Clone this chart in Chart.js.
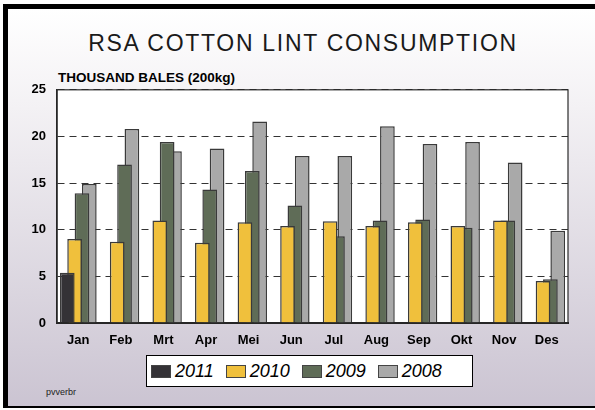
<!DOCTYPE html>
<html lang="en">
<head>
    <meta charset="UTF-8">
    <title>RSA Cotton Lint Consumption</title>
    <script src="https://cdn.jsdelivr.net/npm/chart.js"></script>
    <style>
        html, body { margin: 0; padding: 0; width: 595px; height: 410px; overflow: hidden; background: #fff; font-family: "Liberation Sans", Arial, sans-serif; }
        #frame { position: absolute; left: 3px; top: 4px; width: 587px; height: 397px; border-left: 5px solid #000; border-top: 5px solid #000; border-bottom: 2px solid #000;
                 background: linear-gradient(to bottom, #ffffff 0%, #f3f1f4 25%, #cbc4d2 100%); }
        #title { position: absolute; left: 0; top: 31.5px; width: 606px; text-align: center; font-size: 23px; line-height: 23px; letter-spacing: 1.7px; color: #1a1a1a; }
        #unit { position: absolute; left: 58px; top: 71px; font-size: 13.5px; line-height: 14px; font-weight: bold; color: #000; }
        #chartBox { position: absolute; left: 0; top: 71px; width: 595px; height: 284px; }
        #legend { position: absolute; left: 146px; top: 355px; width: 321px; height: 30px; background: #fff; border: 1px solid #000;
                  display: flex; align-items: center; padding-left: 4px; box-sizing: content-box; }
        .item { display: flex; align-items: center; margin-right: 12px; }
        .sw { width: 18px; height: 11px; border: 1px solid #444; margin-right: 4px; }
        .lt { font-style: italic; font-size: 18px; line-height: 18px; color: #000; }
        #note { position: absolute; left: 46px; top: 387px; font-size: 9px; line-height: 10px; color: #222; }
    </style>
</head>
<body>
    <div id="frame"></div>
    <div id="title">RSA COTTON LINT CONSUMPTION</div>
    <div id="unit">THOUSAND BALES (200kg)</div>
    <div id="chartBox"><canvas id="cottonChart" width="595" height="284"></canvas></div>
    <div id="legend"></div>
    <div id="note">pvverbr</div>

    <script>
        // data (thousand bales)
        const months = ["Jan", "Feb", "Mrt", "Apr", "Mei", "Jun", "Jul", "Aug", "Sep", "Okt", "Nov", "Des"];
        const years = ["2011", "2010", "2009", "2008"];
        const y2011 = [5.4, null, null, null, null, null, null, null, null, null, null, null];
        const y2010 = [9.0, 8.7, 11.0, 8.6, 10.8, 10.4, 10.9, 10.4, 10.8, 10.4, 11.0, 4.5];
        const y2009 = [13.9, 17.0, 19.4, 14.3, 16.3, 12.6, 9.3, 11.0, 11.1, 10.2, 11.0, 4.7];
        const y2008 = [14.9, 20.8, 18.4, 18.7, 21.6, 17.9, 17.9, 21.1, 19.2, 19.4, 17.2, 9.9];
        const yTicks = [0, 5, 10, 15, 20, 25];
        const colors = ["#343236", "#f0c03c", "#5f6c57", "#a9a9a9"];

        const seriesValues = [y2011, y2010, y2009, y2008];

        // white plot area + solid frame round it
        const plotFrame = {
            id: "plotFrame",
            beforeDraw(chart) {
                const a = chart.chartArea, ctx = chart.ctx;
                ctx.save();
                ctx.fillStyle = "#fff";
                ctx.fillRect(a.left, a.top, a.right - a.left, a.bottom - a.top);
                ctx.restore();
            },
            afterDraw(chart) {
                const a = chart.chartArea, ctx = chart.ctx;
                ctx.save();
                ctx.strokeStyle = "#2a2a2a";
                ctx.lineWidth = 1.2;
                ctx.strokeRect(a.left, a.top, a.right - a.left, a.bottom - a.top);
                ctx.restore();
            }
        };

        const ctx = document.getElementById("cottonChart").getContext("2d");
        const cottonChart = new Chart(ctx, {
            type: "bar",
            data: {
                labels: months,
                datasets: years.map((y, i) => ({
                    label: y,
                    data: seriesValues[i],
                    backgroundColor: colors[i],
                    borderColor: "#3a3a3a",
                    borderWidth: 1.5,
                    barPercentage: 2,
                    categoryPercentage: 0.69
                }))
            },
            options: {
                responsive: false,
                animation: false,
                layout: { padding: { top: 1, right: 27, left: 0, bottom: 0 } },
                plugins: { legend: { display: false }, title: { display: false }, tooltip: { enabled: false } },
                scales: {
                    x: {
                        grid: { display: false, drawTicks: false },
                        border: { display: true, color: "#222", width: 2 },
                        ticks: { color: "#000", font: { family: "Liberation Sans", size: 13, weight: "bold" }, padding: 10, maxRotation: 0 },
                        afterFit(scale) { scale.height = 32; }
                    },
                    y: {
                        min: 0, max: 25,
                        afterBuildTicks(scale) { scale.ticks = yTicks.map(v => ({ value: v })); },
                        grid: { color: "#333", lineWidth: 1, drawTicks: false },
                        border: { display: true, color: "#222", width: 1.5, dash: [7, 5] },
                        ticks: { color: "#000", font: { family: "Liberation Sans", size: 13, weight: "bold" }, padding: 11 },
                        afterFit(scale) { scale.width = 57; }
                    }
                }
            },
            plugins: [plotFrame]
        });

        // legend
        const legend = document.getElementById("legend");
        years.forEach((y, i) => {
            legend.innerHTML += `<div class="item"><div class="sw" style="background:${colors[i]}"></div><span class="lt">${y}</span></div>`;
        });
    </script>
</body>
</html>
